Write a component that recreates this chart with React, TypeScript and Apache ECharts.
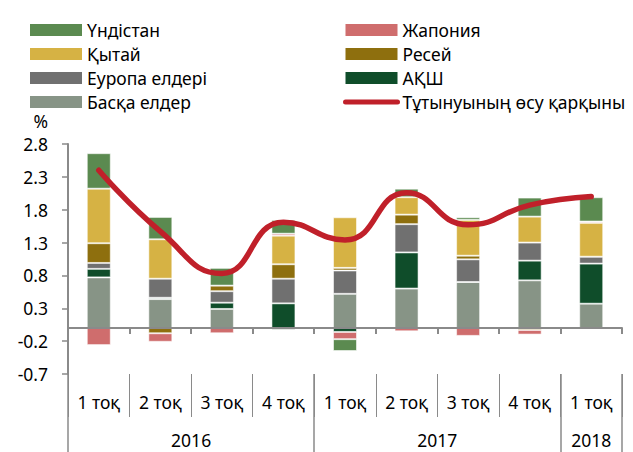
import React, { useEffect, useRef } from 'react';
import * as echarts from 'echarts';

const quarters = ['1 тоқ', '2 тоқ', '3 тоқ', '4 тоқ', '1 тоқ', '2 тоқ', '3 тоқ', '4 тоқ', '1 тоқ'];
const yearLabels = ['2016', '2017', '2018'];
const yearSpans = [4, 4, 1];
const yTicks = [-0.7, -0.2, 0.3, 0.8, 1.3, 1.8, 2.3, 2.8];

const other = [0.77, 0.44, 0.29, -0.03, 0.52, 0.6, 0.7, 0.725, 0.37];
const usa = [0.13, 0.02, 0.095, 0.375, -0.06, 0.55, 0, 0.3, 0.61];
const europe = [0.09, 0.29, 0.175, 0.375, 0.355, 0.43, 0.345, 0.275, 0.105];
const russia = [0.3, -0.08, 0.085, 0.22, 0.04, 0.145, 0.055, -0.03, 0];
const china = [0.83, 0.6, 0, 0.435, 0.77, 0.265, 0.545, 0.395, 0.515];
const japan = [-0.26, -0.13, -0.08, 0.03, -0.11, -0.05, -0.12, -0.07, 0.02];
const india = [0.54, 0.34, 0.27, 0.21, -0.18, 0.13, 0.04, 0.29, 0.37];
const growth = [2.4, 1.47, 0.83, 1.61, 1.34, 2.06, 1.57, 1.87, 2.0];

const N_INDIA = 'Үндістан';
const N_JAPAN = 'Жапония';
const N_CHINA = 'Қытай';
const N_RUSSIA = 'Ресей';
const N_EUROPE = 'Еуропа елдері';
const N_USA = 'АҚШ';
const N_OTHER = 'Басқа елдер';
const N_GROWTH = 'Тұтынуының өсу қарқыны';

export default function App() {
  const ref = useRef<HTMLDivElement>(null);
  useEffect(() => {
    const chart = echarts.init(ref.current!, null, { renderer: 'svg' });
    const bounds: number[] = [0];
    yearSpans.forEach((s) => bounds.push(bounds[bounds.length - 1] + s));
    const centers = yearSpans.map((s, i) => bounds[i] + s / 2);
    const font = 'Noto Sans';
    const fs = 17.5;
    const gray = '#8a8a8a';
    const red = '#C0202A';
    const mkBar = (name: string, data: number[], color: string) => ({
      name,
      type: 'bar',
      stack: 'total',
      data,
      barWidth: 24,
      xAxisIndex: 0,
      yAxisIndex: 0,
      itemStyle: { color, borderColor: 'rgba(255,255,255,0.55)', borderWidth: 1 },
    });
    const legendBase = {
      orient: 'vertical',
      top: 15,
      itemWidth: 52,
      itemHeight: 12,
      itemGap: 4,
      itemTextGap: 6,
      itemStyle: { borderWidth: 0 },
      textStyle: { fontFamily: font, fontSize: fs, lineHeight: 20, color: '#000' },
      selectedMode: false,
    };
    chart.setOption({
      animation: false,
      textStyle: { fontFamily: font },
      legend: [
        {
          ...legendBase,
          left: 25,
          data: [
            { name: N_INDIA, icon: 'rect' },
            { name: N_CHINA, icon: 'rect' },
            { name: N_EUROPE, icon: 'rect' },
            { name: N_OTHER, icon: 'rect' },
          ],
        },
        {
          ...legendBase,
          left: 338,
          data: [
            { name: N_JAPAN, icon: 'rect' },
            { name: N_RUSSIA, icon: 'rect' },
            { name: N_USA, icon: 'rect' },
            {
              name: N_GROWTH,
              itemStyle: { color: 'rgba(0,0,0,0)', borderWidth: 0, opacity: 0 },
              lineStyle: { width: 5, color: red, cap: 'round' },
            },
          ],
        },
      ],
      grid: { left: 68, right: 11, top: 144, bottom: 78, containLabel: false },
      xAxis: [
        {
          type: 'category',
          data: quarters,
          position: 'bottom',
          axisLine: { onZero: true, lineStyle: { color: gray, width: 2 } },
          axisTick: { show: true, length: 6, lineStyle: { color: gray, width: 2 } },
          axisLabel: { show: false },
          splitLine: { show: false },
          z: 5,
        },
        {
          type: 'category',
          data: quarters,
          position: 'bottom',
          axisLine: { show: false, onZero: false },
          axisTick: { show: true, length: 43, interval: 0, lineStyle: { color: gray, width: 1 } },
          axisLabel: { margin: 19, fontSize: fs, color: '#000', interval: 0, fontFamily: font },
          splitLine: { show: false },
        },
        {
          type: 'value',
          min: 0,
          max: bounds[bounds.length - 1],
          position: 'bottom',
          axisLine: { show: false, onZero: false },
          axisTick: { show: true, customValues: bounds, length: 78, lineStyle: { color: gray, width: 1.5 } },
          axisLabel: {
            customValues: centers,
            formatter: (v: number) => yearLabels[centers.indexOf(v)] ?? '',
            margin: 57,
            fontSize: fs,
            color: '#000',
            fontFamily: font,
          },
          splitLine: { show: false },
        },
      ],
      yAxis: {
        type: 'value',
        min: -0.7,
        max: 2.8,
        name: '%',
        nameLocation: 'end',
        nameGap: 14,
        nameTextStyle: {
          fontSize: fs,
          color: '#000',
          align: 'right',
          verticalAlign: 'bottom',
          padding: [0, 20, 0, 0],
          fontFamily: font,
        },
        axisLine: { show: true, onZero: false, lineStyle: { color: gray, width: 2 } },
        axisTick: { show: true, customValues: yTicks, length: 6, lineStyle: { color: gray, width: 1.5 } },
        axisLabel: {
          customValues: yTicks,
          formatter: (v: number) => v.toFixed(1),
          margin: 20,
          fontSize: fs,
          color: '#000',
          fontFamily: font,
        },
        splitLine: { show: false },
      },
      series: [
        mkBar(N_OTHER, other, '#879486'),
        mkBar(N_USA, usa, '#0F4D2A'),
        mkBar(N_EUROPE, europe, '#707070'),
        mkBar(N_RUSSIA, russia, '#8E6F0E'),
        mkBar(N_CHINA, china, '#D6B244'),
        mkBar(N_JAPAN, japan, '#CF6D6D'),
        mkBar(N_INDIA, india, '#5B8A50'),
        {
          name: N_GROWTH,
          type: 'line',
          data: growth,
          smooth: 0.5,
          symbol: 'none',
          xAxisIndex: 0,
          yAxisIndex: 0,
          z: 10,
          lineStyle: { color: red, width: 5.5, cap: 'round' },
          itemStyle: { color: red },
        },
      ],
    });
    return () => chart.dispose();
  }, []);
  return (
    <div
      ref={ref}
      style={{ position: 'absolute', left: 0, top: 0, width: 633, height: 452 }}
    />
  );
}
